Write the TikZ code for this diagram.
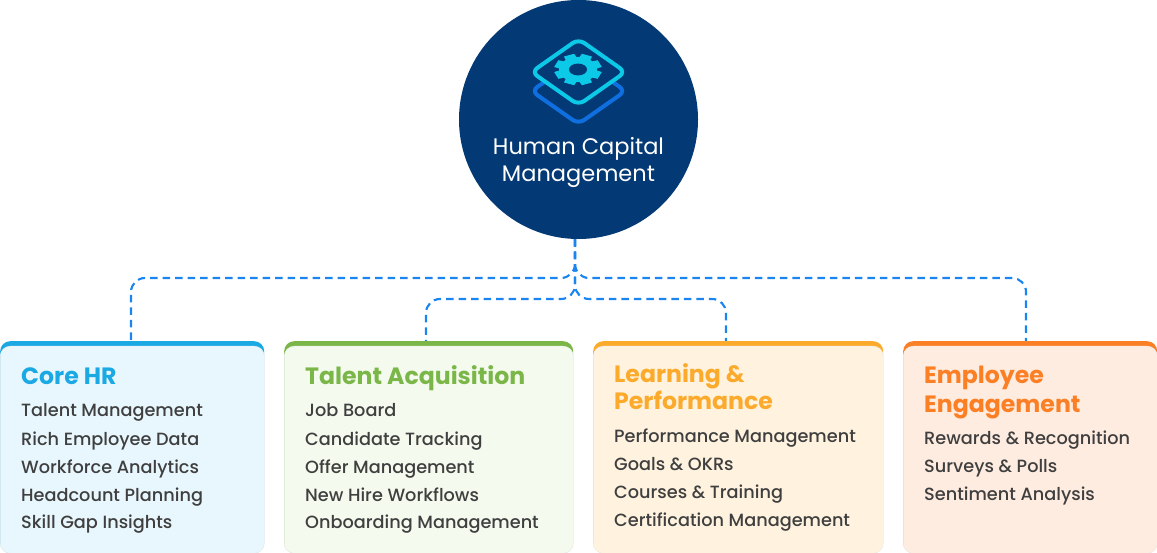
\documentclass[tikz,border=0pt]{standalone}
\usepackage{fontspec}
\setmainfont{Poppins}
\newfontfamily\itemfont{Poppins Medium}
\usetikzlibrary{calc}
\definecolor{navy}{HTML}{033A75}
\definecolor{iconcyan}{HTML}{0CC9E8}
\definecolor{iconblue}{HTML}{0F6FE0}
\definecolor{conn}{HTML}{1A85F0}
\definecolor{ink}{HTML}{3F3F3F}
\definecolor{edge}{HTML}{EEF0F0}
\definecolor{cA}{HTML}{1AA9E3}\definecolor{pA}{HTML}{E8F7FD}
\definecolor{cB}{HTML}{7AB648}\definecolor{pB}{HTML}{F4FBEE}
\definecolor{cC}{HTML}{FCAA2B}\definecolor{pC}{HTML}{FFF3E0}
\definecolor{cD}{HTML}{FB7F25}\definecolor{pD}{HTML}{FFECE0}
\tikzset{
  x=1pt,y=-1pt,
  cardbar/.style={rectangle,rounded corners=10pt,minimum height=212pt,inner sep=0pt,anchor=north west},
  cardbody/.style={rectangle,rounded corners=10pt,minimum height=207pt,inner sep=0pt,anchor=north west,draw=edge,line width=0.5pt},
  conline/.style={conn,line width=2.1pt,dash pattern=on 7.5pt off 5pt,rounded corners=14pt},
  itemtext/.style={anchor=base west,inner sep=0pt,text=ink,font=\itemfont\fontsize{17.7}{20}\selectfont},
  titletext/.style={anchor=base west,inner sep=0pt,font=\fontsize{23.6}{28}\selectfont\bfseries},
  hubtext/.style={anchor=base,inner sep=0pt,text=white,font=\fontsize{22.5}{27}\selectfont},
}
\begin{document}
\begin{tikzpicture}
\useasboundingbox (0,0) rectangle (1157,553);
% hub
\node[circle,fill=navy,minimum size=239pt,inner sep=0pt] (hub) at (578.5,119.5) {};
% icon
\draw[iconblue,line width=4pt,line join=round,rounded corners=7pt] (578.5,58)--(625.5,91)--(578.5,124)--(531.5,91)--cycle;
\draw[iconcyan,fill=navy,line width=4pt,line join=round,rounded corners=7pt] (578.5,39)--(625.5,72)--(578.5,105)--(531.5,72)--cycle;
\begin{scope}[shift={(578,69.5)},yscale=0.66]
  \foreach \a in {0,45,...,315}{
    \fill[iconcyan,rotate=\a+22.5] (-7,0) -- (-5.5,-23.5) -- (5.5,-23.5) -- (7,0) -- cycle;
  }
  \fill[iconcyan] (0,0) circle (19);
  \fill[navy] (0,0) circle (9);
\end{scope}
\node[hubtext] (h1) at (578.5,155) {Human Capital};
\node[hubtext] (h2) at (578.5,182) {Management};
% cards
\node[cardbar,fill=cA,minimum width=264pt] (core) at (0,341) {};
\node[cardbody,fill=pA,minimum width=264pt] (coreb) at (0,346) {};
\node[cardbar,fill=cB,minimum width=289pt] (talent) at (284,341) {};
\node[cardbody,fill=pB,minimum width=289pt] (talentb) at (284,346) {};
\node[cardbar,fill=cC,minimum width=290pt] (learn) at (593,341) {};
\node[cardbody,fill=pC,minimum width=290pt] (learnb) at (593,346) {};
\node[cardbar,fill=cD,minimum width=254pt] (engage) at (903,341) {};
\node[cardbody,fill=pD,minimum width=254pt] (engageb) at (903,346) {};
% connectors
\coordinate (j0) at ([xshift=-3.5pt]hub.south);
\coordinate (ea) at (131,278);
\coordinate (eb) at (426,299);
\coordinate (ec) at (726,299);
\coordinate (ed) at (1026,278);
\coordinate (ja) at (575,278);
\coordinate (jb) at (575,299);
\draw[conline] (j0) -- (ja) -- (ea) -- (ea |- core.north);
\draw[conline] (j0) -- (ja) -- (ed) -- (ed |- engage.north);
\draw[conline] (j0) -- (jb) -- (eb) -- (eb |- talent.north);
\draw[conline] (j0) -- (jb) -- (ec) -- (ec |- learn.north);
% core
\node[titletext,text=cA] (ta) at (21,384.5) {Core HR};
\node[itemtext] (a1) at (21,417) {Talent Management};
\node[itemtext] (a2) at (21,445) {Rich Employee Data};
\node[itemtext] (a3) at (21,473) {Workforce Analytics};
\node[itemtext] (a4) at (21,501) {Headcount Planning};
\node[itemtext] (a5) at (21,528.5) {Skill Gap Insights};
% talent
\node[titletext,text=cB] (tb) at (305,384.5) {Talent Acquisition};
\node[itemtext] (b1) at (305,417) {Job Board};
\node[itemtext] (b2) at (305,445) {Candidate Tracking};
\node[itemtext] (b3) at (305,473) {Offer Management};
\node[itemtext] (b4) at (305,501) {New Hire Workflows};
\node[itemtext] (b5) at (305,528.5) {Onboarding Management};
% learning
\node[titletext,text=cC] (tc1) at (614,382) {Learning \&};
\node[titletext,text=cC] (tc2) at (614,409.5) {Performance};
\node[itemtext] (c1) at (614,442) {Performance Management};
\node[itemtext] (c2) at (614,470) {Goals \& OKRs};
\node[itemtext] (c3) at (614,498) {Courses \& Training};
\node[itemtext] (c4) at (614,526) {Certification Management};
% engagement
\node[titletext,text=cD] (td1) at (924,384) {Employee};
\node[titletext,text=cD] (td2) at (924,412) {Engagement};
\node[itemtext] (d1) at (924,444.5) {Rewards \& Recognition};
\node[itemtext] (d2) at (924,472.5) {Surveys \& Polls};
\node[itemtext] (d3) at (924,500.5) {Sentiment Analysis};
\end{tikzpicture}
\end{document}
